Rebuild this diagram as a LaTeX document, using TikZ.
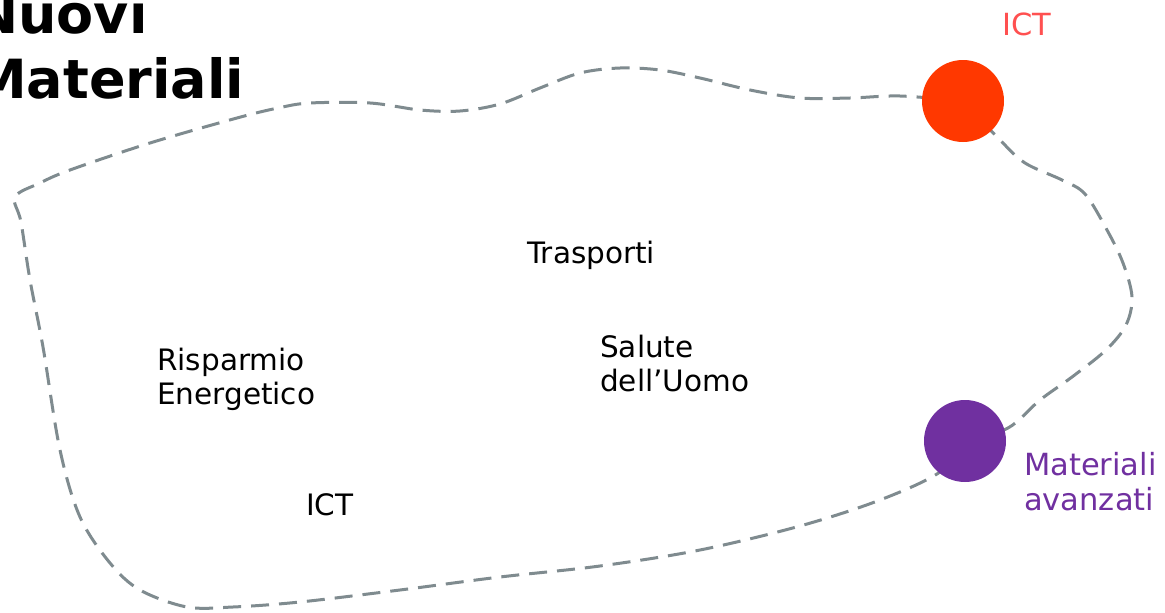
\documentclass[tikz,border=0pt]{standalone}
\usepackage{fontspec}
\setmainfont{DejaVu Sans}
\pgfdeclarelayer{bg}
\pgfsetlayers{bg,main}
\definecolor{curvegray}{RGB}{127,139,143}
\definecolor{ictred}{RGB}{255,56,0}
\definecolor{ictlabel}{RGB}{255,80,80}
\definecolor{matpurple}{RGB}{112,48,160}
\tikzset{
  dot/.style={circle, minimum size=82pt, inner sep=0pt, draw=none},
  lbl/.style={inner sep=0pt, anchor=base west, align=left, font=\fontsize{29.5}{34}\selectfont},
  sidelbl/.style={inner sep=0pt, anchor=base west, align=left, font=\fontsize{30.5}{35}\selectfont},
  route/.style={draw=curvegray, line width=3pt, dash pattern=on 18pt off 10pt},
}
\begin{document}
\begin{tikzpicture}[x=1pt, y=-1pt]
\useasboundingbox (0,0) rectangle (1165,613);
% title (anchor at the baseline of the last line)
\node[inner sep=0pt, anchor=base west, align=left, font=\bfseries\fontsize{54}{65}\selectfont] (title) at (-27,98) {Nuovi\\Materiali};
% circles
\node[dot, fill=ictred] (ict) at (963,101) {};
\node[dot, fill=matpurple] (mat) at (965,441) {};
\node[sidelbl, text=ictlabel] (ictlbl) at (1002,35) {ICT};
\node[sidelbl, text=matpurple] (matlbl) at (1024,510) {Materiali\\avanzati};
% inner labels
\node[lbl] (trasp) at (527,263) {Trasporti};
\node[lbl] (risp) at (157,404) {Risparmio\\Energetico};
\node[lbl] (salute) at (600,391) {Salute\\dell’Uomo};
\node[lbl] (ict2) at (306,515) {ICT};
% dashed boundary
\begin{pgfonlayer}{bg}
\draw[route] plot[smooth, tension=0.55] coordinates {(ict.center) (1000,140) (1025,163) (1062,180) (1085,194) (1107,230) (1123,263) (1132,297) (1126,325) (1106,350) (1072,377) (1040,400) (1008,428) (mat.center)};
\draw[route] plot[smooth, tension=0.55] coordinates {(mat.center) (940,472) (880,500) (800,526) (700,550) (600,566) (500,577) (400,590) (300,602) (233,607) (187,607) (140,590) (110,563) (80,517) (60,450) (43,347) (30,280) (21,222) (15,197) (40,183) (70,170) (150,143) (237,118) (278,108) (310,103) (370,103) (420,110) (460,111) (500,104) (540,88) (580,73) (620,68) (660,70) (700,78) (750,90) (800,98) (850,98) (900,96) (ict.center)};
\end{pgfonlayer}
\end{tikzpicture}
\end{document}
